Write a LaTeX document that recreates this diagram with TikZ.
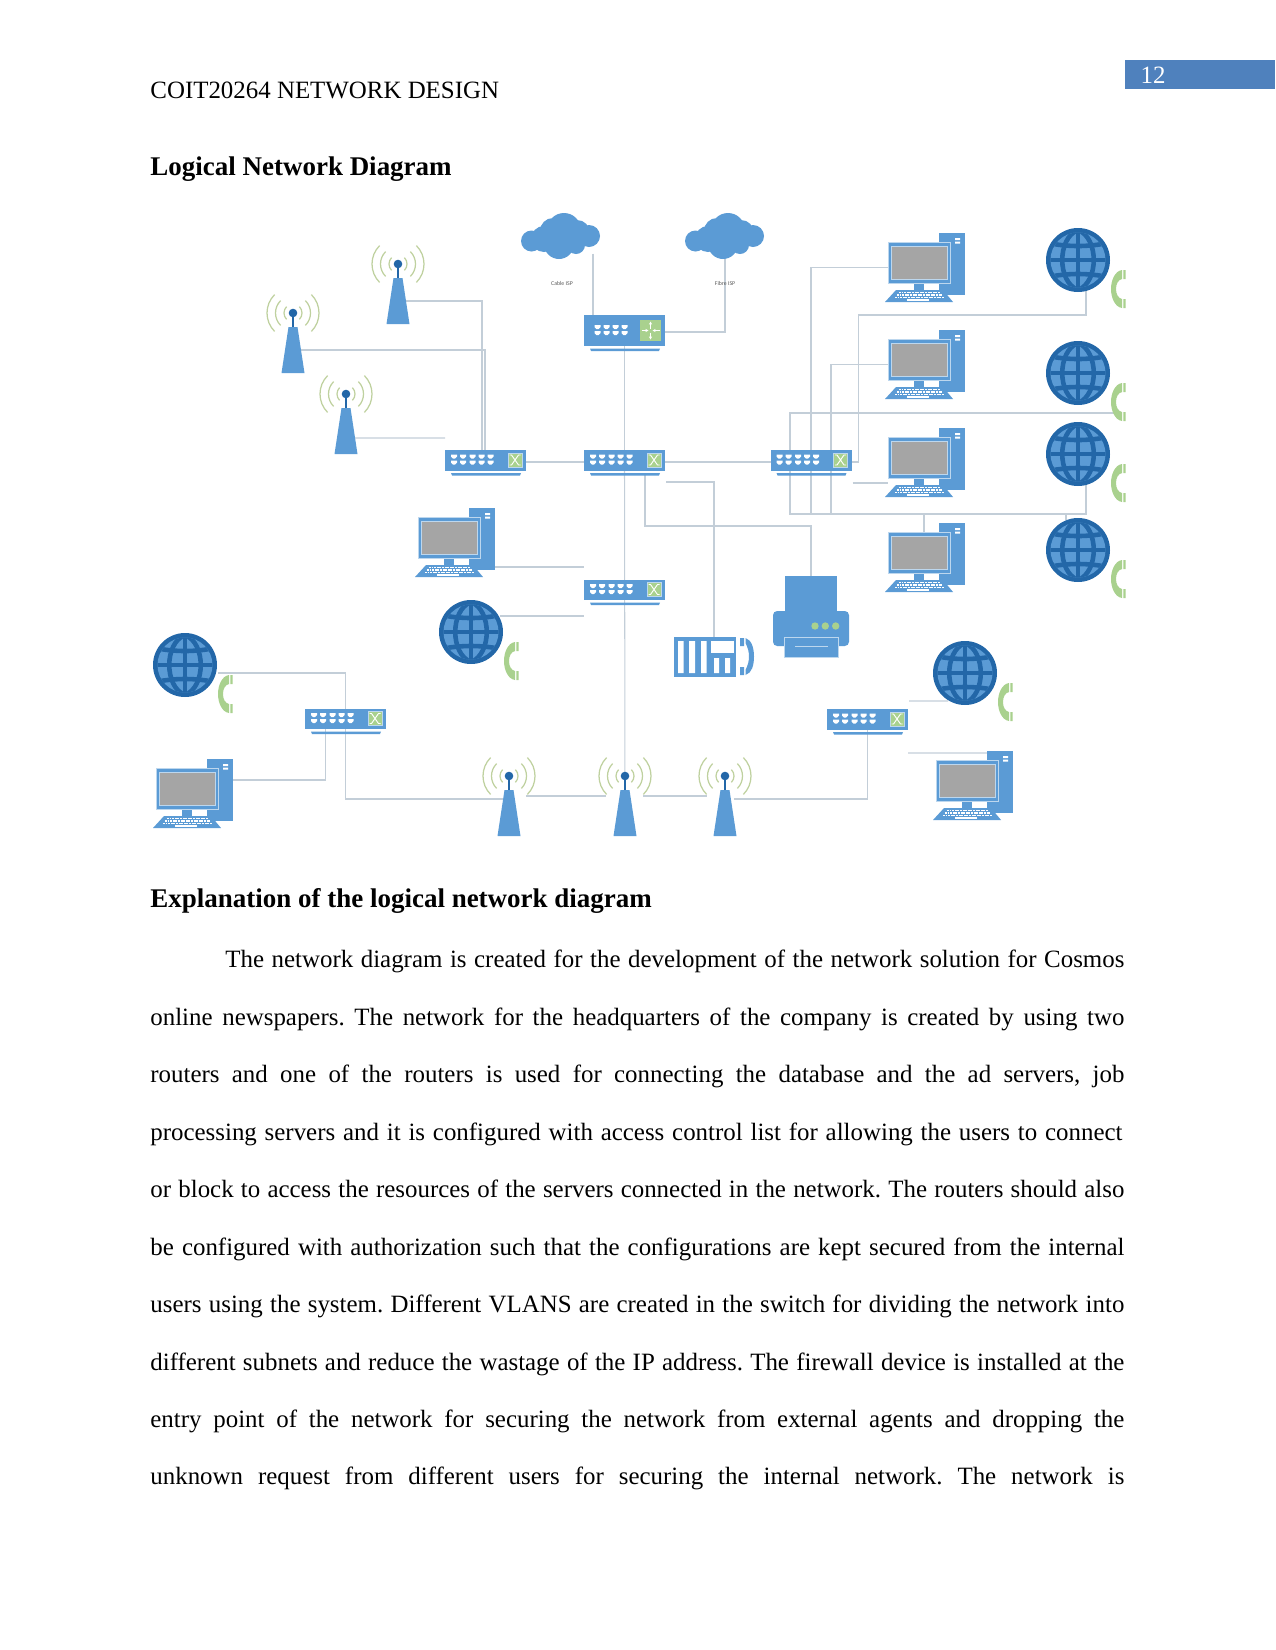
\documentclass[tikz,border=0pt]{standalone}
\usepackage{fontspec}
\setmainfont{Liberation Serif}
\newfontfamily\labelfont{Carlito}
\usepackage{xcolor}
\usepackage{tikz}
\usetikzlibrary{calc,backgrounds,arrows.meta}

\definecolor{iconblue}{HTML}{5B9BD5}
\definecolor{deepblue}{HTML}{2367A8}
\definecolor{leaf}{HTML}{A9D18E}
\definecolor{wave}{HTML}{BFD19F}
\definecolor{screen}{HTML}{A5A5A5}
\definecolor{edgeblue}{HTML}{BDD7EE}
\definecolor{wire}{HTML}{C3CED8}
\definecolor{bandblue}{HTML}{4F81BD}

\begin{document}
\frenchspacing
\begin{tikzpicture}[
    x=0.48bp, y=-0.48bp,
    link/.style={draw=wire, line width=0.5bp},
    switchbox/.style={rectangle, inner sep=0, outer sep=0, minimum width=38.88bp, minimum height=9.6bp},
    routerbox/.style={rectangle, inner sep=0, outer sep=0, minimum width=38.88bp, minimum height=14.88bp},
    towerbox/.style={rectangle, inner sep=0, outer sep=0, minimum width=7.68bp, minimum height=22.08bp},
    pcbox/.style={rectangle, inner sep=0, outer sep=0, minimum width=38.4bp, minimum height=33.12bp},
    globebox/.style={circle, inner sep=0, outer sep=0, minimum size=30.72bp},
    cloudbox/.style={rectangle, inner sep=0, outer sep=0, minimum width=38.4bp, minimum height=21.6bp},
    plainline/.style={anchor=base west, inner sep=0, font=\fontsize{12}{14}\selectfont},
    headline/.style={anchor=base west, inner sep=0, font=\fontsize{13}{15}\selectfont\bfseries},
    ispnote/.style={inner sep=0, text=black!65, font=\labelfont\fontsize{2.8}{3}\selectfont},
    switchicon/.pic={
        \fill[iconblue] (-40.5,-10) rectangle (40.5,10.5);
        \fill[iconblue] (-34.5,13) -- (35.5,13) -- (34.5,15.5) -- (-33.5,15.5) -- cycle;
        \foreach \cx in {-31.5,-22.5,-13,-4,5}
            \foreach \cy in {-3.5,2.5}
                \fill[white] (\cx-3,\cy-2) -- (\cx+3,\cy-2) -- (\cx+3,\cy) -- (\cx+1.2,\cy+2) -- (\cx-1.2,\cy+2) -- (\cx-3,\cy) -- cycle;
        \fill[leaf] (22.5,-7) rectangle (36.5,7);
        \draw[edgeblue, line width=0.3bp] (22.5,-7) rectangle (36.5,7);
        \draw[white, line width=0.45bp] (24,-5) -- (26,-5) -- (33,5) -- (35,5) (24,5) -- (26,5) -- (33,-5) -- (35,-5);
    },
    routericon/.pic={
        \fill[iconblue] (-40.5,-15.5) rectangle (40.5,15.5);
        \fill[iconblue] (-34.5,18) -- (35.5,18) -- (34.5,20.5) -- (-33.5,20.5) -- cycle;
        \foreach \cx in {-27,-18,-9,0}
            \foreach \cy in {-3.5,2.5}
                \fill[white] (\cx-3,\cy-2) -- (\cx+3,\cy-2) -- (\cx+3,\cy) -- (\cx+1.2,\cy+2) -- (\cx-1.2,\cy+2) -- (\cx-3,\cy) -- cycle;
        \fill[leaf] (15,-10.5) rectangle (36.5,10.5);
        \draw[white, line width=0.45bp, -{Stealth[length=1.5bp,width=1.5bp]}] (26,-2) -- (26,-9);
        \draw[white, line width=0.45bp, -{Stealth[length=1.5bp,width=1.5bp]}] (26,2) -- (26,9);
        \draw[white, line width=0.45bp, -{Stealth[length=1.5bp,width=1.5bp]}] (17,0) -- (24,0);
        \draw[white, line width=0.45bp, -{Stealth[length=1.5bp,width=1.5bp]}] (35,0) -- (28,0);
    },
    towericon/.pic={
        \fill[iconblue] (-4.5,-23) -- (4.5,-23) -- (11.5,23) -- (-11.5,23) -- cycle;
        \draw[deepblue, line width=1bp] (0,-37) -- (0,-23);
        \fill[deepblue] (0,-37) circle (4.3);
        \foreach \rr in {9,17.5,26} {
            \draw[wave, line width=0.6bp] (\rr*0.7071,-37-\rr*0.7071) arc[start angle=-45, end angle=45, radius=\rr];
            \draw[wave, line width=0.6bp] (-\rr*0.7071,-37-\rr*0.7071) arc[start angle=225, end angle=135, radius=\rr];
        }
    },
    pcicon/.pic={
        \fill[iconblue] (14,-34.5) rectangle (40,27.5);
        \fill[white] (30,-29.5) rectangle (35,-27.5) (30,-25.8) rectangle (35,-23.8);
        \fill[iconblue] (-11,15) rectangle (-1,23);
        \filldraw[fill=iconblue, draw=edgeblue, line width=0.35bp] (-37,-25.5) rectangle (25,15.5);
        \filldraw[fill=screen, draw=edgeblue, line width=0.35bp] (-33.5,-21.5) rectangle (22,11.5);
        \fill[iconblue] (-29,22.5) -- (18,22.5) -- (28,34.5) -- (-40,34.5) -- cycle;
        \draw[white, line width=0.6bp, dash pattern=on 0.9bp off 0.35bp] (-26,25) -- (15,25);
        \draw[white, line width=0.6bp, dash pattern=on 0.9bp off 0.35bp] (-28,27.5) -- (17,27.5);
        \draw[white, line width=0.6bp, dash pattern=on 0.9bp off 0.35bp] (-30,30) -- (19,30);
        \fill[white] (-18,31.5) rectangle (4,33);
    },
    globeicon/.pic={
        \fill[deepblue] (0,0) circle (32);
        \begin{scope}
            \clip (0,0) circle (27.5);
            \fill[iconblue] (-30,-30) rectangle (30,30);
            \draw[deepblue, line width=2.2bp] (0,-32) -- (0,32) (-32,0) -- (32,0);
            \draw[deepblue, line width=2.2bp] (0,-30) .. controls (-21,-22) and (-21,22) .. (0,30);
            \draw[deepblue, line width=2.2bp] (0,-30) .. controls (21,-22) and (21,22) .. (0,30);
            \draw[deepblue, line width=2.2bp] (-30,-17) .. controls (-10,-13) and (10,-13) .. (30,-17);
            \draw[deepblue, line width=2.2bp] (-30,17) .. controls (-10,13) and (10,13) .. (30,17);
        \end{scope}
        % handset beside the globe
        \fill[leaf] (44,10) .. controls (37,11) and (33,20) .. (33,29) .. controls (33,38) and (37,47) .. (44,48)
            -- (44,39) .. controls (40,38) and (38,34) .. (38,29) .. controls (38,24) and (40,20) .. (44,19) -- cycle;
        \fill[leaf] (45.3,10) rectangle (47.7,19) (45.3,39) rectangle (47.7,48);
    },
    cloudicon/.pic={
        \fill[iconblue] (3,-6) circle (17) (-8,-5) circle (13) (16,-3) circle (13) (-2,8) circle (15) (28,0) circle (11)
            (-17,3) circle (13) (-29.5,5) circle (10.5) (15,9) circle (9);
    },
    printericon/.pic={
        \fill[iconblue] (-26,-40.5) rectangle (26,-5.5);
        \fill[iconblue, rounded corners=2bp] (-38,29.5) -- (-38,-5.5) -- (38,-5.5) -- (38,29.5) -- cycle;
        \filldraw[fill=iconblue, draw=edgeblue, line width=0.35bp] (-27,20.5) rectangle (27,40.5);
        \draw[edgeblue, line width=0.35bp] (-16,29.5) -- (17,29.5);
        \foreach \dx in {4,14.3,24.7}
            \fill[leaf] (\dx,9.5) circle (3.7);
    },
    pbxicon/.pic={
        \fill[iconblue] (-31,-20) rectangle (31,20);
        \fill[white] (-27,-16) rectangle (-21.5,16) (-16,-16) rectangle (-10,16) (-4,-16) rectangle (1.6,16);
        \fill[white] (6,-16) rectangle (29,-4);
        \fill[white] (9,1) rectangle (14,16) (20,1) rectangle (25,16);
        % handset on the right of the unit
        \fill[iconblue] (35,-19) rectangle (39,-11) (35,10) rectangle (39,18);
        \fill[iconblue] (40.5,-19) .. controls (47,-17) and (49,-8) .. (49,-0.5) .. controls (49,8) and (47,16) .. (40.5,18)
            -- (40.5,13) .. controls (43,8) and (44,4) .. (44,-0.5) .. controls (44,-5) and (43,-9) .. (40.5,-14) -- cycle;
    },
]
\useasboundingbox (0,0) rectangle (1275,1650);

% Page header
\fill[bandblue] (1125,60) rectangle (1275,89);
\node[inner sep=0, text=white, font=\fontsize{12}{14}\selectfont] (pageno) at (1153,75) {12};
\node[plainline] (header) at (150,98) {COIT20264 NETWORK DESIGN};
\node[headline] (title) at (150,175) {Logical Network Diagram};

\begin{scope}[shift={(1,0)}]
% Switches and the router
\foreach \nm/\px/\py in {swL/484.5/460, swC/623.5/460, swR/810/460, swB/623.5/589.5, swLL/344.5/718.5, swLR/866.5/719} {
    \node[switchbox] (\nm) at (\px,\py) {};
    \pic at (\nm) {switchicon};
}
\node[routerbox] (rtrTop) at (623.5,330.5) {};
\pic at (rtrTop) {routericon};

% Clouds
\foreach \nm/\px/\py in {cldA/560/236, cldB/724/236} {
    \node[cloudbox] (\nm) at (\px,\py) {};
    \pic at (\nm) {cloudicon};
}
\node[ispnote] (ispA) at (561,283) {Cable ISP};
\node[ispnote] (ispB) at (724,283) {Fibre ISP};

% Wireless towers
\foreach \nm/\px/\py in {twrA/397/301, twrB/292/350, twrC/345/431, twrP/508/813, twrQ/624/813, twrS/724/813} {
    \node[towerbox] (\nm) at (\px,\py) {};
    \pic at (\nm) {towericon};
}

% Computers
\foreach \nm/\px/\py in {pcA/924/267.5, pcB/924/364.5, pcC/924/462.5, pcD/924/557.5, pcM/454/542.5, pcLL/192/793.5, pcLR/972/785.5} {
    \node[pcbox] (\nm) at (\px,\py) {};
    \pic at (\nm) {pcicon};
}

% Globes with handsets
\foreach \nm/\px/\py in {glbA/1077/260, glbB/1077/373, glbC/1077/454, glbD/1077/550, glbM/470/632, glbLL/184/665, glbR/964/673} {
    \node[globebox] (\nm) at (\px,\py) {};
    \pic at (\nm) {globeicon};
}

% Printer and telephone exchange
\node[rectangle, inner sep=0, outer sep=0, minimum width=36.5bp, minimum height=38.88bp] (prn) at (810,616.5) {};
\pic at (prn) {printericon};
\node[rectangle, inner sep=0, outer sep=0, minimum width=29.76bp, minimum height=19.2bp] (pbx) at (704,657) {};
\pic at (pbx) {pbxicon};

% Connections
\begin{scope}[on background layer]
\draw[link] ($(cldA.south)+(32,-5)$) -- ($(rtrTop.north)+(-31.5,0)$);
\draw[link] (cldB.south) |- ($(rtrTop.east)+(0,1.5)$);
\draw[link] (rtrTop.south) -- (swC.north);
\draw[link] (twrA.east) -| ($(swL.north)+(-3.5,0)$);
\draw[link] (twrB.east) -| ($(swL.north)+(-0.5,0)$);
\draw[link] ($(twrC.east)+(0,7)$) -- ($(swL.north west)+(0,-12)$);
\draw[link] ($(swL.east)+(0,2)$) -- ($(swC.west)+(0,2)$);
\draw[link] ($(swC.east)+(0,2)$) -- ($(swR.west)+(0,2)$);
\draw[link] (swC.south) -- (twrQ.north);
\draw[link] ($(swC.south)+(20.5,5)$) |- ($(prn.north)+(0,-50)$) -- (prn.north);
\draw[link] ($(swC.south east)+(1,12)$) -| ($(pbx.north)+(9,0)$);

\draw[link] (swR.north) |- ($(pcA.west)+(3,0)$);
\draw[link] ($(swR.north)+(20,0)$) |- ($(pcB.west)+(3,0)$);
\draw[link] ($(swR.east)+(0,2)$) -- ++(7,0) |- ($(glbA.south)+(8,23)$) -- ($(glbA.south)+(8,-1)$);
\draw[link] ($(swR.north)+(-21,0)$) |- ($(glbB.south)+(36,8)$);
\draw[link] ($(swR.east)+(1,23)$) -- ($(pcC.west)+(3,20.5)$);
\draw[link] ($(swR.south)+(-21,0)$) |- ($(glbC.south)+(8,28)$) -- ($(glbC.south)+(8,-1)$);
\draw[link] (swR.south) -- ++(0,44);
\draw[link] ($(swR.south)+(20,0)$) -- ++(0,44);
\draw[link] ($(pcD.north)+(-1,-9)$) -- ($(pcD.north)+(-1,9)$);
\draw[link] ($(glbD.north)+(-12,-4)$) -- ($(glbD.north)+(-12,2)$);

\draw[link] ($(pcM.east)+(0,24.5)$) -- ($(swB.west)+(0,-22.5)$);
\draw[link] ($(glbM.east)+(-3,-16)$) -- ($(swB.west)+(0,26.5)$);

\draw[link] ($(glbLL.east)+(1,8)$) -| (swLL.north);
\draw[link] (swLL.south) |- ($(twrP.west)+(2,-14)$);
\draw[link] ($(swLL.south)+(-20,0)$) |- ($(pcLL.east)+(0,-13.5)$);
\draw[link] ($(twrP.east)+(9,-17)$) -- ($(twrQ.west)+(-11,-17)$);
\draw[link] ($(twrQ.east)+(10,-17)$) -- ($(twrS.west)+(-10,-17)$);
\draw[link] ($(twrS.east)+(1,-14)$) -| (swLR.south);
\draw[link] ($(swLR.north east)+(1,-8)$) -- ($(glbR.south)+(-17,-4)$);
\draw[link] ($(swLR.east)+(0,34)$) -- ($(pcLR.north)+(14,2)$);
\end{scope}
\end{scope}

% Explanation text
\node[headline] (expl) at (150,907) {Explanation of the logical network diagram};
\node[plainline] (l1) at (225,967.6) {\makebox[431.5bp][s]{The network diagram is created for the development of the network solution for Cosmos}};
\node[plainline] (l2) at (150,1025.1) {\makebox[467.5bp][s]{online newspapers. The network for the headquarters of the company is created by using two}};
\node[plainline] (l3) at (150,1082.6) {\makebox[467.5bp][s]{routers and one of the routers is used for connecting the database and the ad servers, job}};
\node[plainline] (l4) at (150,1140.1) {\makebox[466.6bp][s]{processing servers and it is configured with access control list for allowing the users to connect}};
\node[plainline] (l5) at (150,1197.6) {\makebox[467.5bp][s]{or block to access the resources of the servers connected in the network. The routers should also}};
\node[plainline] (l6) at (150,1255.1) {\makebox[467.5bp][s]{be configured with authorization such that the configurations are kept secured from the internal}};
\node[plainline] (l7) at (150,1312.6) {\makebox[467.5bp][s]{users using the system. Different VLANS are created in the switch for dividing the network into}};
\node[plainline] (l8) at (150,1370.1) {\makebox[467.5bp][s]{different subnets and reduce the wastage of the IP address. The firewall device is installed at the}};
\node[plainline] (l9) at (150,1427.6) {\makebox[467.5bp][s]{entry point of the network for securing the network from external agents and dropping the}};
\node[plainline] (l10) at (150,1484.6) {\makebox[467.5bp][s]{unknown request from different users for securing the internal network. The network is}};

\end{tikzpicture}
\end{document}
